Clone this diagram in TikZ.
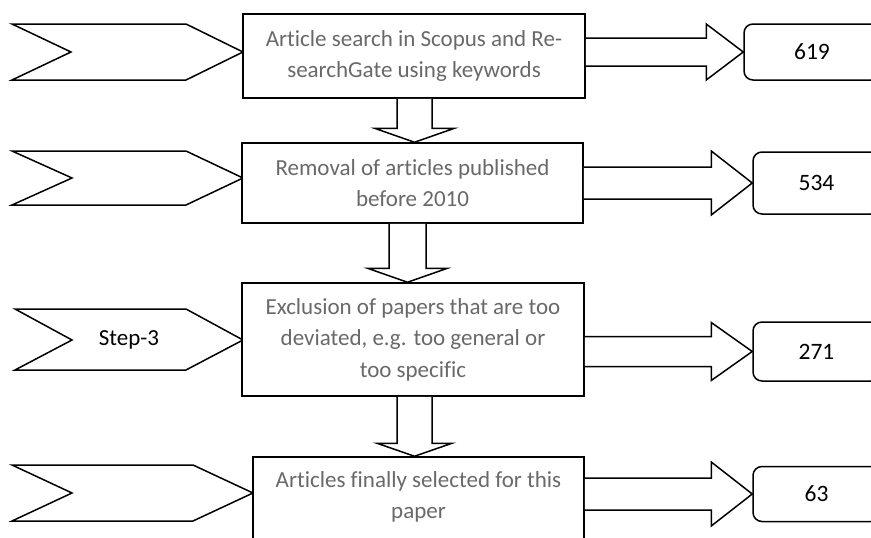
\documentclass[tikz,border=0pt]{standalone}
\usepackage{fontspec}
\setmainfont{Carlito}[Ligatures=NoCommon]
\usetikzlibrary{calc}
\definecolor{txtgray}{RGB}{105,105,105}
\newcommand\rarrow[5]{%
  \draw[blk] let \p1=(#1.east), \p2=(#2.west) in
    (\x1,\y2+#3) -- (\x2-#5,\y2+#3) -- (\x2-#5,\y2+#4) -- (\p2) --
    (\x2-#5,\y2-#4) -- (\x2-#5,\y2-#3) -- (\x1,\y2-#3);}
\newcommand\darrow[6]{%
  \draw[blk] let \p1=(#1.south), \p2=(#2.north) in
    (#3pt-#4pt,\y1) -- (#3pt-#4pt,\y2+#6pt) -- (#3pt-#5pt,\y2+#6pt) -- (#3pt,\y2) --
    (#3pt+#5pt,\y2+#6pt) -- (#3pt+#4pt,\y2+#6pt) -- (#3pt+#4pt,\y1);}
\begin{document}
\begin{tikzpicture}[x=1pt,y=-1pt,line width=1.5pt,line join=miter,
  mainbox/.style={draw,fill=white,inner sep=0pt,align=center,
    font=\fontsize{23}{31.5}\selectfont,text=txtgray},
  maintext/.style={inner sep=0pt,align=center,font=\fontsize{23}{30.5}\selectfont,text=txtgray},
  numbox/.style={draw,fill=white,rounded corners=9pt,inner sep=0pt,font=\fontsize{23.5}{26}\selectfont},
  lbl/.style={inner sep=0pt,font=\fontsize{23}{26}\selectfont},
  blk/.style={draw,fill=white},
  chev/.style={draw,fill=white}]
\useasboundingbox (0,0) rectangle (871,538);

% chevrons
\draw[chev] (12,24) -- (186,24) -- (243,52) -- (186,80) -- (12,80) -- (71,52) -- cycle;
\draw[chev] (12,151) -- (186,151) -- (243,178) -- (186,205) -- (12,205) -- (72,178) -- cycle;
\draw[chev] (15,309) -- (186,309) -- (243,340) -- (186,370) -- (15,370) -- (72,340) -- cycle;
\draw[chev] (12,465) -- (193,465) -- (253,493) -- (193,521) -- (12,521) -- (72,493) -- cycle;
\node[lbl] (step3) at (129,340) {Step-3};

% main boxes
\node[mainbox,minimum width=342,minimum height=84] (b1) at (414,56)
  {Article search in Scopus and Re-\\searchGate using keywords};
\node[mainbox,minimum width=341,minimum height=80] (b2) at (412.5,183)
  {Removal of articles published\\before 2010};
\node[mainbox,minimum width=342,minimum height=113] (b3) at (413,339.5)
  {Exclusion of papers that are too\\deviated, e.g. too general or\\too specific};
\node[mainbox,minimum width=331,minimum height=110] (b4) at (418.5,512) {};
\node[maintext] (b4t) at (418.5,497) {Articles finally selected for this\\paper};

% number boxes
\node[numbox,minimum width=136,minimum height=56] (n1) at (812,52) {619};
\node[numbox,minimum width=127,minimum height=62] (n2) at (816.5,183) {534};
\node[numbox,minimum width=127,minimum height=59] (n3) at (816.5,351.5) {271};
\node[numbox,minimum width=127,minimum height=55] (n4) at (816.5,494) {63};

% right block arrows
\rarrow{b1}{n1}{14}{28}{37}
\rarrow{b2}{n2}{16}{32}{41}
\rarrow{b3}{n3}{15}{29}{41}
\rarrow{b4}{n4}{16}{32}{41}

% down block arrows
\darrow{b1}{b2}{414.5}{17.5}{40}{14}
\darrow{b2}{b3}{407.5}{18.5}{40}{14}
\darrow{b3}{b4}{414.5}{17.5}{37.5}{13}
\end{tikzpicture}
\end{document}
